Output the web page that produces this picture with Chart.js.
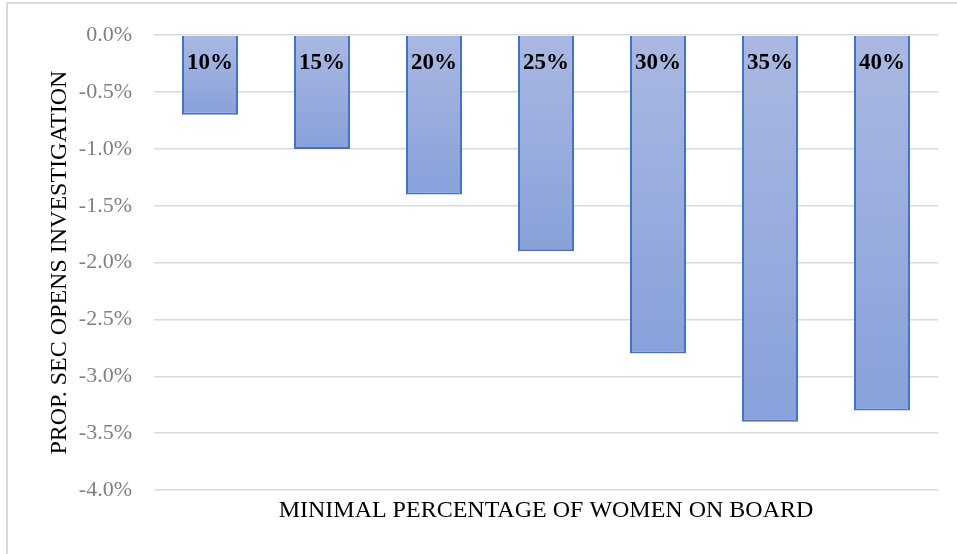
<!DOCTYPE html>
<html>
<head>
<meta charset="utf-8">
<script src="https://cdn.jsdelivr.net/npm/chart.js@4"></script>
<style>
	html, body { margin: 0; padding: 0; background: #fff; }
	#wrap { position: relative; width: 957px; height: 554px; }
	#frame { position: absolute; left: 6px; top: 2px; width: 980px; height: 600px; border: 2px solid #d9d9d9; box-sizing: border-box; }
	canvas { position: absolute; left: 0; top: 0; }
</style>
</head>
<body>
<div id="wrap">
	<div id="frame"></div>
	<canvas id="myChart" width="957" height="554"></canvas>
</div>
<script>
// Категории (минимальная доля женщин в совете)
const categories = ['10%', '15%', '20%', '25%', '30%', '35%', '40%'];
// Значения, в процентах
const values = [-0.7, -1.0, -1.4, -1.9, -2.8, -3.4, -3.3];
// Деления оси Y
const yTicks = [0, -0.5, -1, -1.5, -2, -2.5, -3, -3.5, -4];

// Подписи внутри столбцов
const barLabels = {
	id: 'barLabels',
	afterDatasetsDraw(chart) {
		const ctx = chart.ctx;
		const meta = chart.getDatasetMeta(0);
		ctx.save();
		ctx.font = 'bold 23px "Liberation Serif"';
		ctx.fillStyle = '#000';
		ctx.textAlign = 'center';
		ctx.textBaseline = 'middle';
		meta.data.forEach((bar, i) => {
			ctx.fillText(categories[i], bar.x, bar.base + 27);
		});
		ctx.restore();
	}
};

const data = {
	labels: categories,
	datasets: [{
		data: values,
		backgroundColor: (context) => {
			const chart = context.chart;
			const area = chart.chartArea;
			if (!area) return '#98acdd';
			const y = chart.scales.y;
			const top = y.getPixelForValue(0);
			const bottom = y.getPixelForValue(context.raw);
			const g = chart.ctx.createLinearGradient(0, top, 0, bottom);
			g.addColorStop(0, '#aab8e1');
			g.addColorStop(1, '#88a1da');
			return g;
		},
		borderColor: '#4472c4',
		borderWidth: 2,
		barPercentage: 0.5,
		categoryPercentage: 1
	}]
};

const options = {
	responsive: false,
	animation: false,
	layout: {
		autoPadding: false,
		padding: { top: 33, right: 19, left: 0, bottom: 0 }
	},
	plugins: {
		legend: { display: false },
		tooltip: { enabled: false }
	},
	scales: {
		x: {
			grid: { display: false },
			border: { display: false },
			ticks: { display: false },
			title: {
				display: true,
				text: 'MINIMAL PERCENTAGE OF WOMEN ON BOARD',
				color: '#000',
				font: { family: 'Liberation Serif', size: 24 },
				padding: { top: 0, bottom: 29 }
			},
			afterFit: (scale) => { scale.height = 64; }
		},
		y: {
			min: -4,
			max: 0,
			afterBuildTicks: (scale) => {
				scale.ticks = yTicks.map(v => ({ value: v }));
			},
			grid: {
				color: '#d9d9d9',
				lineWidth: 1.5,
				drawTicks: false
			},
			border: { display: false },
			ticks: {
				color: '#808080',
				padding: 22,
				font: { family: 'Liberation Serif', size: 22 },
				callback: (v) => v.toFixed(1) + '%'
			},
			title: {
				display: true,
				text: 'PROP. SEC OPENS INVESTIGATION',
				color: '#000',
				font: { family: 'Liberation Serif', size: 24 },
				padding: { top: 45, bottom: 0 }
			},
			afterFit: (scale) => { scale.width = 154; }
		}
	}
};

new Chart(document.getElementById('myChart'), {
	type: 'bar',
	data: data,
	options: options,
	plugins: [barLabels]
});
</script>
</body>
</html>
